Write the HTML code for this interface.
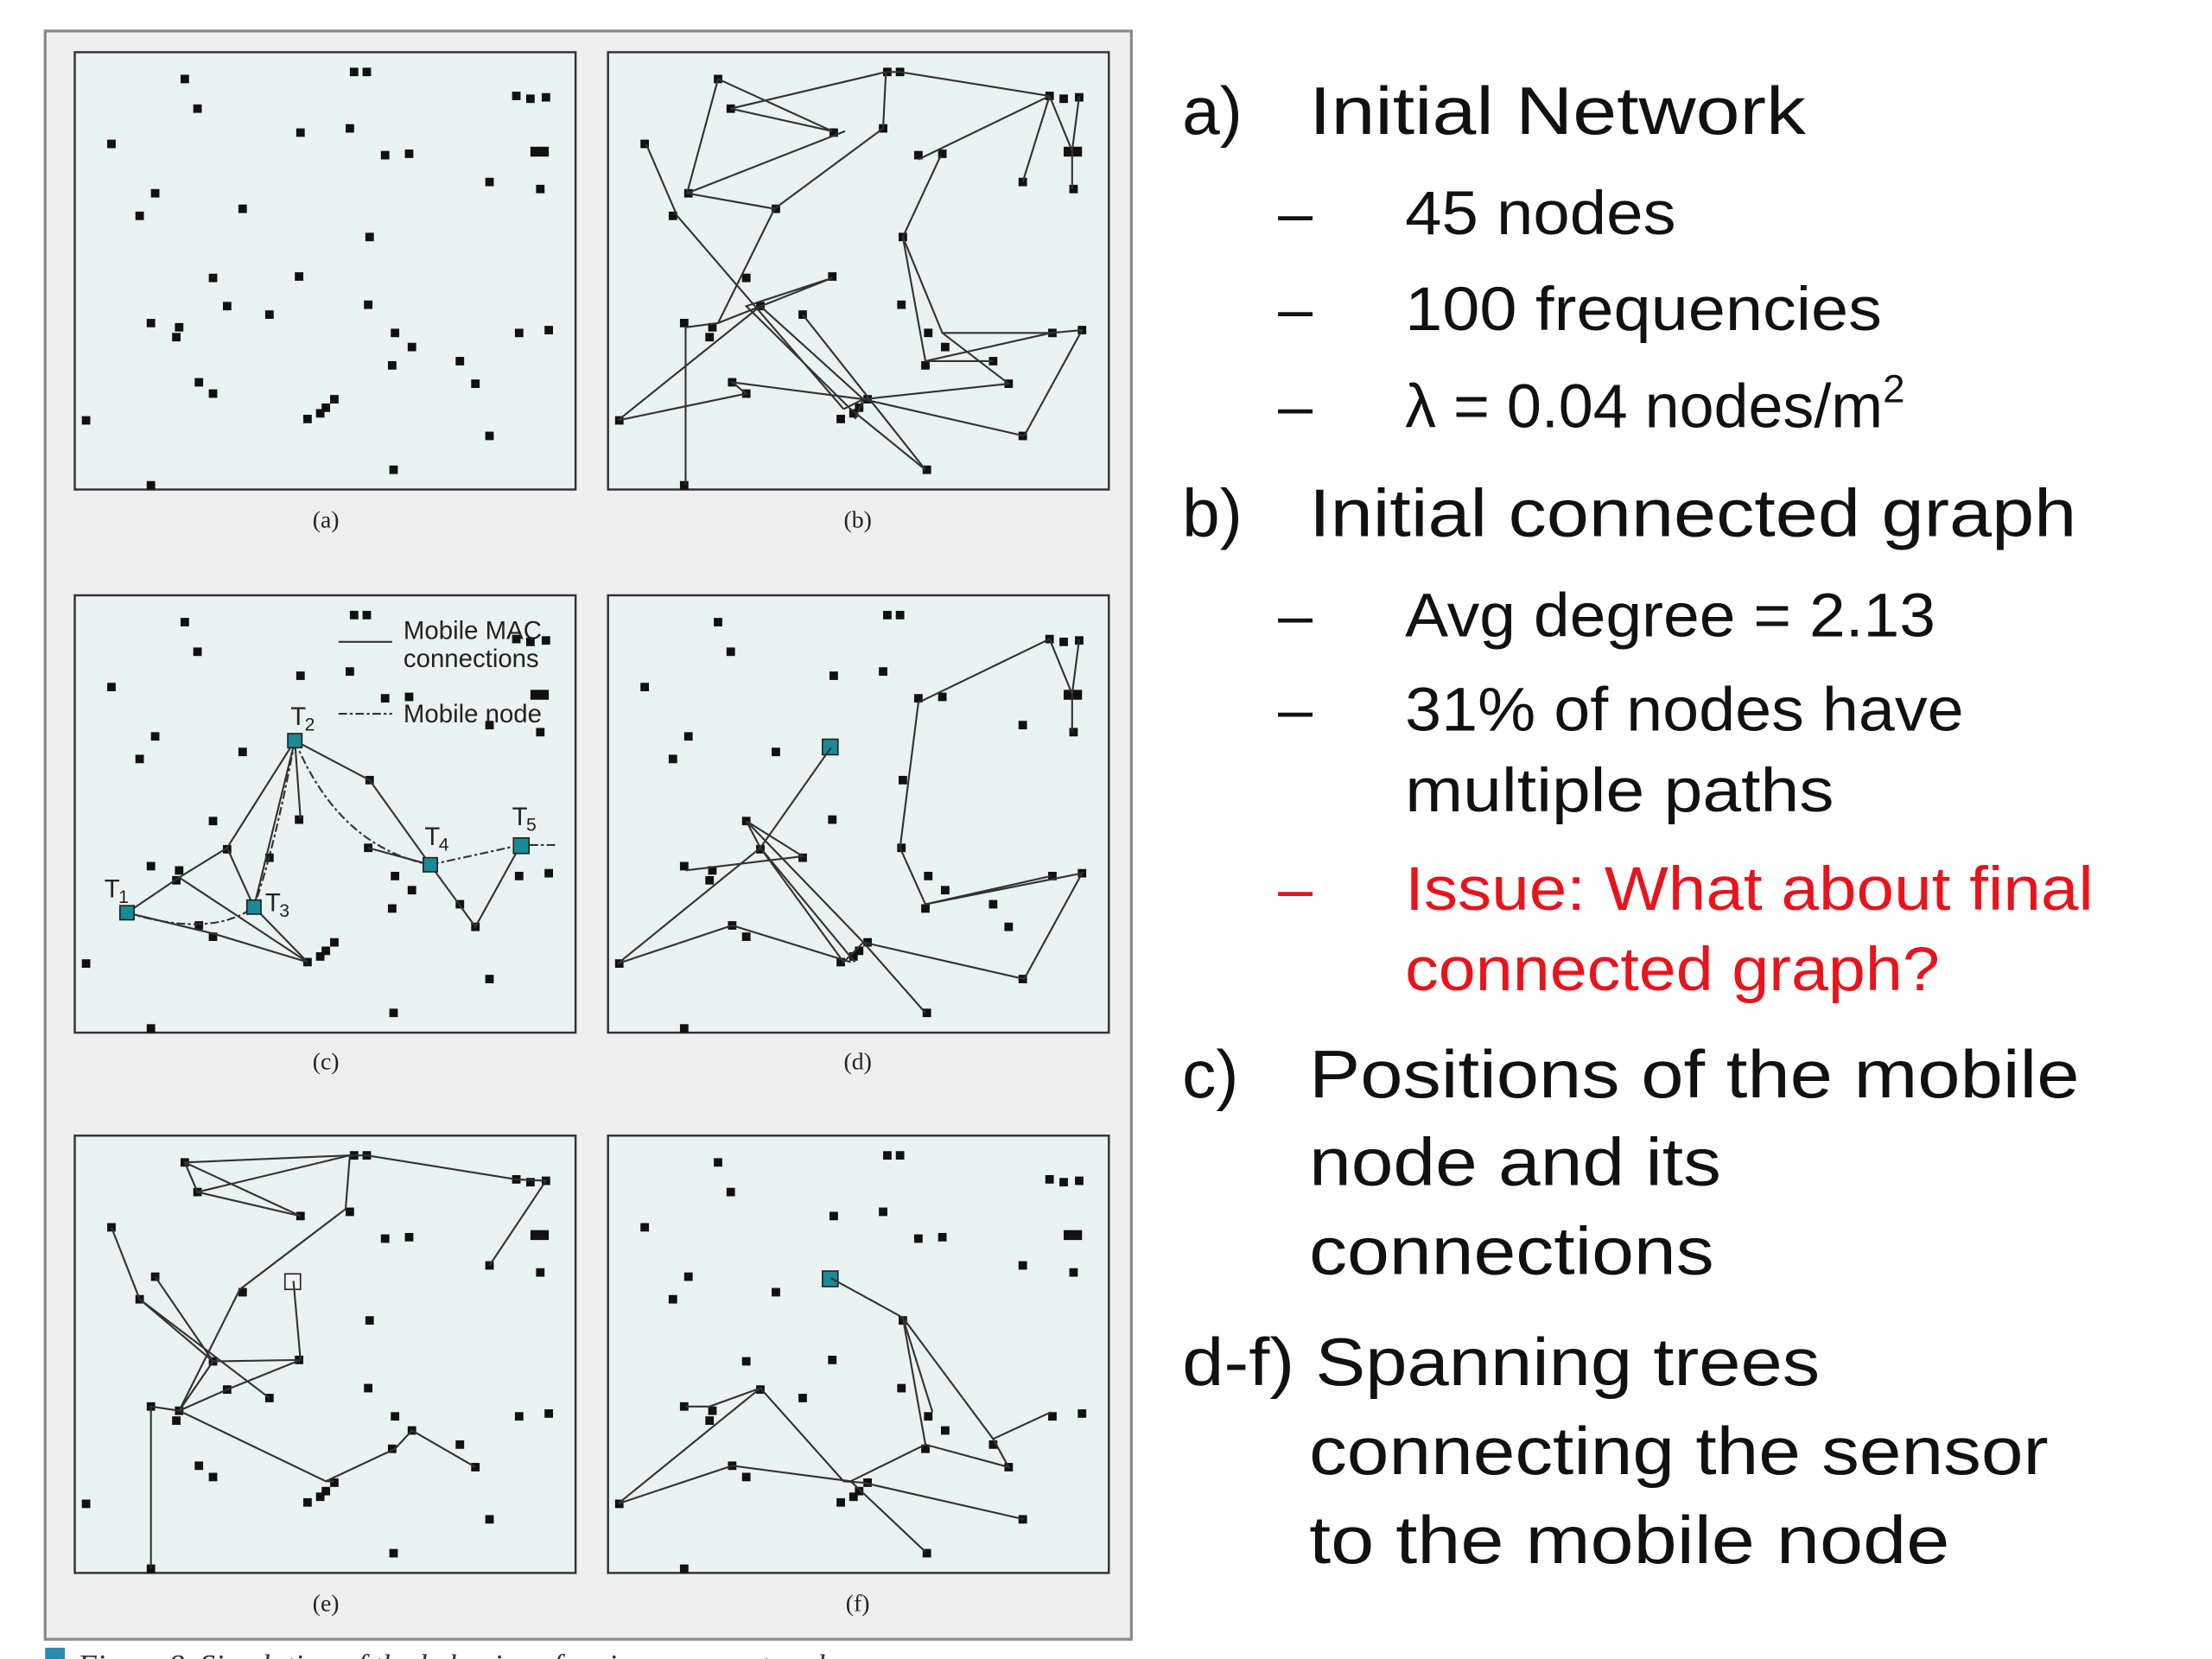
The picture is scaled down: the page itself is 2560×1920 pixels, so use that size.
<!DOCTYPE html>
<html><head><meta charset="utf-8"><style>
html,body{margin:0;padding:0;background:#fff;}
svg{display:block;}
</style></head><body>
<svg width="2560" height="1920" viewBox="0 0 1568 1176" preserveAspectRatio="none" xmlns="http://www.w3.org/2000/svg">
<rect x="0" y="0" width="1568" height="1176" fill="#fff"/>
<rect x="32" y="22" width="770" height="1140" fill="#efefef" stroke="#8a8a8a" stroke-width="2"/>
<defs>
<g id="nodes" fill="#111">
<rect x="128" y="53" width="6" height="6"/><rect x="137" y="74" width="6" height="6"/><rect x="248" y="48" width="6" height="6"/><rect x="257" y="48" width="6" height="6"/>
<rect x="363" y="65" width="6" height="6"/><rect x="373" y="67" width="6" height="6"/><rect x="384" y="66" width="6" height="6"/><rect x="76" y="99" width="6" height="6"/>
<rect x="210" y="91" width="6" height="6"/><rect x="245" y="88" width="6" height="6"/><rect x="270" y="107" width="6" height="6"/><rect x="287" y="106" width="6" height="6"/>
<rect x="376" y="104" width="13" height="7"/><rect x="380" y="131" width="6" height="6"/><rect x="344" y="126" width="6" height="6"/>
<rect x="107" y="134" width="6" height="6"/><rect x="96" y="150" width="6" height="6"/><rect x="169" y="145" width="6" height="6"/><rect x="259" y="165" width="6" height="6"/>
<rect x="148" y="194" width="6" height="6"/><rect x="209" y="193" width="6" height="6"/><rect x="158" y="214" width="6" height="6"/><rect x="188" y="220" width="6" height="6"/>
<rect x="258" y="213" width="6" height="6"/><rect x="104" y="226" width="6" height="6"/><rect x="124" y="229" width="6" height="6"/><rect x="122" y="236" width="6" height="6"/>
<rect x="277" y="233" width="6" height="6"/><rect x="289" y="243" width="6" height="6"/><rect x="365" y="233" width="6" height="6"/><rect x="386" y="231" width="6" height="6"/>
<rect x="138" y="268" width="6" height="6"/><rect x="148" y="276" width="6" height="6"/><rect x="275" y="256" width="6" height="6"/><rect x="323" y="253" width="6" height="6"/>
<rect x="334" y="269" width="6" height="6"/><rect x="234" y="280" width="6" height="6"/><rect x="228" y="286" width="6" height="6"/><rect x="215" y="294" width="6" height="6"/>
<rect x="224" y="290" width="6" height="6"/><rect x="58" y="295" width="6" height="6"/><rect x="344" y="306" width="6" height="6"/><rect x="276" y="330" width="6" height="6"/>
<rect x="104" y="341" width="6" height="6"/>
</g>
</defs>
<g fill="#e9f3f1" stroke="#333" stroke-width="1.5">
<rect x="53" y="37" width="355" height="310"/><rect x="431" y="37" width="355" height="310"/>
<rect x="53" y="422" width="355" height="310"/><rect x="431" y="422" width="355" height="310"/>
<rect x="53" y="805" width="355" height="310"/><rect x="431" y="805" width="355" height="310"/>
</g>
<use href="#nodes"/>
<use href="#nodes" x="378"/>
<use href="#nodes" x="0" y="385"/>
<use href="#nodes" x="378" y="385"/>
<use href="#nodes" x="0" y="768"/>
<use href="#nodes" x="378" y="768"/>
<g stroke="#333" stroke-width="1.3" fill="none">
<polyline points="509,56 590,93 518,77 628,51 638,51 744,68 760,107 765,68"/>
<polyline points="509,56 487,137 549,148 626,91 628,51"/>
<polyline points="744,68 651,113"/><polyline points="667,110 640,168 668,236 745,236 767,234 726,309"/>
<polyline points="760,107 760,134"/><polyline points="744,68 725,129"/>
<polyline points="458,102 480,153 598,290"/><polyline points="487,137 599,93"/>
<polyline points="549,148 509,229 486,232 486,344"/><polyline points="509,229 590,197 529,217 603,290 656,333"/>
<polyline points="438,298 529,279 519,271 612,283 726,309"/><polyline points="438,298 539,217 612,283 715,272 668,236"/>
<polyline points="569,223 656,333"/><polyline points="640,168 656,256 704,256"/><polyline points="656,256 745,236"/>
<polyline points="598,290 612,283 606,297"/>
</g>
<g stroke="#333" stroke-width="1.3" fill="none">
<polyline points="90,647 127,622 161,601 209,525 180,643 161,601"/>
<polyline points="209,525 262,553 305,613 337,657 369,599"/>
<polyline points="90,647 152,662 218,682 180,643"/><polyline points="127,622 218,682"/>
<polyline points="305,613 261,601"/><polyline points="209,525 213,580"/>
<polyline points="240,455 278,455"/>
<path d="M90,647 Q150,665 180,643" stroke-dasharray="6,2,2,2"/>
<path d="M209,525 Q195,600 180,643" stroke-dasharray="6,2,2,2"/>
<path d="M209,525 Q240,600 305,613" stroke-dasharray="6,2,2,2"/>
<path d="M305,613 L369,599 L395,599" stroke-dasharray="6,2,2,2"/>
<path d="M240,506 L278,506" stroke-dasharray="6,2,2,2"/>
</g>
<g fill="#1a8a96" stroke="#222" stroke-width="1">
<rect x="85" y="642" width="10" height="10"/><rect x="204" y="520" width="10" height="10"/><rect x="175" y="638" width="10" height="10"/>
<rect x="300" y="608" width="10" height="10"/><rect x="364" y="594" width="11" height="11"/>
<rect x="583" y="524" width="11" height="11"/><rect x="583" y="901" width="11" height="11"/>
</g>
<rect x="202" y="903" width="11" height="11" fill="#f4f4f4" stroke="#222"/>
<g font-family="Liberation Sans, sans-serif" font-size="18" fill="#222">
<text x="286" y="453">Mobile MAC</text><text x="286" y="473">connections</text><text x="286" y="512">Mobile node</text>
<text x="74" y="636">T</text><text x="84" y="640" font-size="13">1</text>
<text x="206" y="514">T</text><text x="216" y="518" font-size="13">2</text>
<text x="188" y="646">T</text><text x="198" y="650" font-size="13">3</text>
<text x="301" y="599">T</text><text x="311" y="603" font-size="13">4</text>
<text x="363" y="585">T</text><text x="373" y="589" font-size="13">5</text>
</g>
<g stroke="#333" stroke-width="1.3" fill="none">
<polyline points="589,530 539,601 529,582 612,668 656,718"/>
<polyline points="438,683 539,601 598,682 612,668 726,694 767,619 656,641 638,601 651,498 744,453 760,492 765,453"/>
<polyline points="438,683 519,656 603,682"/><polyline points="486,617 569,607 529,582"/><polyline points="539,601 606,682"/>
<polyline points="656,641 745,621"/><polyline points="760,492 760,519"/>
</g>
<g stroke="#333" stroke-width="1.3" fill="none">
<polyline points="131,824 140,845 213,862 131,824 248,819 260,819 366,836 387,837 347,897 "/>
<polyline points="140,845 248,819 245,857"/><polyline points="245,857 170,914 127,1000 107,997 107,1112"/>
<polyline points="79,870 99,921 191,991"/><polyline points="110,905 151,965 213,964 208,908"/>
<polyline points="127,1000 161,985 213,964"/><polyline points="127,1000 151,965 99,921"/>
<polyline points="127,1000 231,1050 280,1027 292,1014 337,1040"/><polyline points="231,1050 237,1050"/>
</g>
<g stroke="#333" stroke-width="1.3" fill="none">
<polyline points="589,906 640,934 656,1024 715,1040 704,1020 745,1001"/>
<polyline points="640,934 704,1020"/><polyline points="640,934 661,1001"/>
<polyline points="438,1066 539,984 598,1050 612,1051 726,1077"/><polyline points="438,1066 519,1039 603,1050 656,1100"/>
<polyline points="486,997 503,997 539,984"/><polyline points="603,1050 656,1024"/>
</g>
<g font-family="Liberation Serif, serif" font-size="17" fill="#222" text-anchor="middle">
<text x="231" y="374">(a)</text><text x="608" y="374">(b)</text>
<text x="231" y="758">(c)</text><text x="608" y="758">(d)</text>
<text x="231" y="1142">(e)</text><text x="608" y="1142">(f)</text>
</g>
<rect x="32" y="1168" width="14" height="9" fill="#2a8ab0"/>
<text x="55" y="1188" font-family="Liberation Serif, serif" font-style="italic" font-size="22" fill="#333">Figure 8. Simulation of the behavior of an in-sensor network.</text>
<g font-family="Liberation Sans, DejaVu Sans, sans-serif" fill="#111" lengthAdjust="spacingAndGlyphs">
<text x="838" y="95" font-size="48">a)</text><text x="928" y="95" font-size="48" textLength="352" lengthAdjust="spacingAndGlyphs">Initial Network</text>
<text x="906" y="166" font-size="44">–</text><text x="996" y="166" font-size="44" textLength="192" lengthAdjust="spacingAndGlyphs">45 nodes</text>
<text x="906" y="234" font-size="44">–</text><text x="996" y="234" font-size="44" textLength="338" lengthAdjust="spacingAndGlyphs">100 frequencies</text>
<text x="906" y="303" font-size="44">–</text><text x="996" y="303" font-size="44">λ = 0.04 nodes/m<tspan font-size="28" dy="-18">2</tspan></text>
<text x="838" y="380" font-size="48">b)</text><text x="928" y="380" font-size="48" textLength="544" lengthAdjust="spacingAndGlyphs">Initial connected graph</text>
<text x="906" y="451" font-size="44">–</text><text x="996" y="451" font-size="44" textLength="376" lengthAdjust="spacingAndGlyphs">Avg degree = 2.13</text>
<text x="906" y="518" font-size="44">–</text><text x="996" y="518" font-size="44" textLength="396" lengthAdjust="spacingAndGlyphs">31% of nodes have</text>
<text x="996" y="575" font-size="44" textLength="304" lengthAdjust="spacingAndGlyphs">multiple paths</text>
<text x="906" y="645" font-size="44" fill="#e8141c">–</text><text x="996" y="645" font-size="44" fill="#e8141c" textLength="488" lengthAdjust="spacingAndGlyphs">Issue: What about final</text>
<text x="996" y="702" font-size="44" fill="#e8141c" textLength="379" lengthAdjust="spacingAndGlyphs">connected graph?</text>
<text x="838" y="778" font-size="48">c)</text><text x="928" y="778" font-size="48" textLength="546" lengthAdjust="spacingAndGlyphs">Positions of the mobile</text>
<text x="928" y="840" font-size="48" textLength="292" lengthAdjust="spacingAndGlyphs">node and its</text>
<text x="928" y="903" font-size="48" textLength="287" lengthAdjust="spacingAndGlyphs">connections</text>
<text x="838" y="982" font-size="48" textLength="452" lengthAdjust="spacingAndGlyphs">d-f) Spanning trees</text>
<text x="928" y="1045" font-size="48" textLength="524" lengthAdjust="spacingAndGlyphs">connecting the sensor</text>
<text x="928" y="1108" font-size="48" textLength="454" lengthAdjust="spacingAndGlyphs">to the mobile node</text>
</g>
</svg>
</body></html>
